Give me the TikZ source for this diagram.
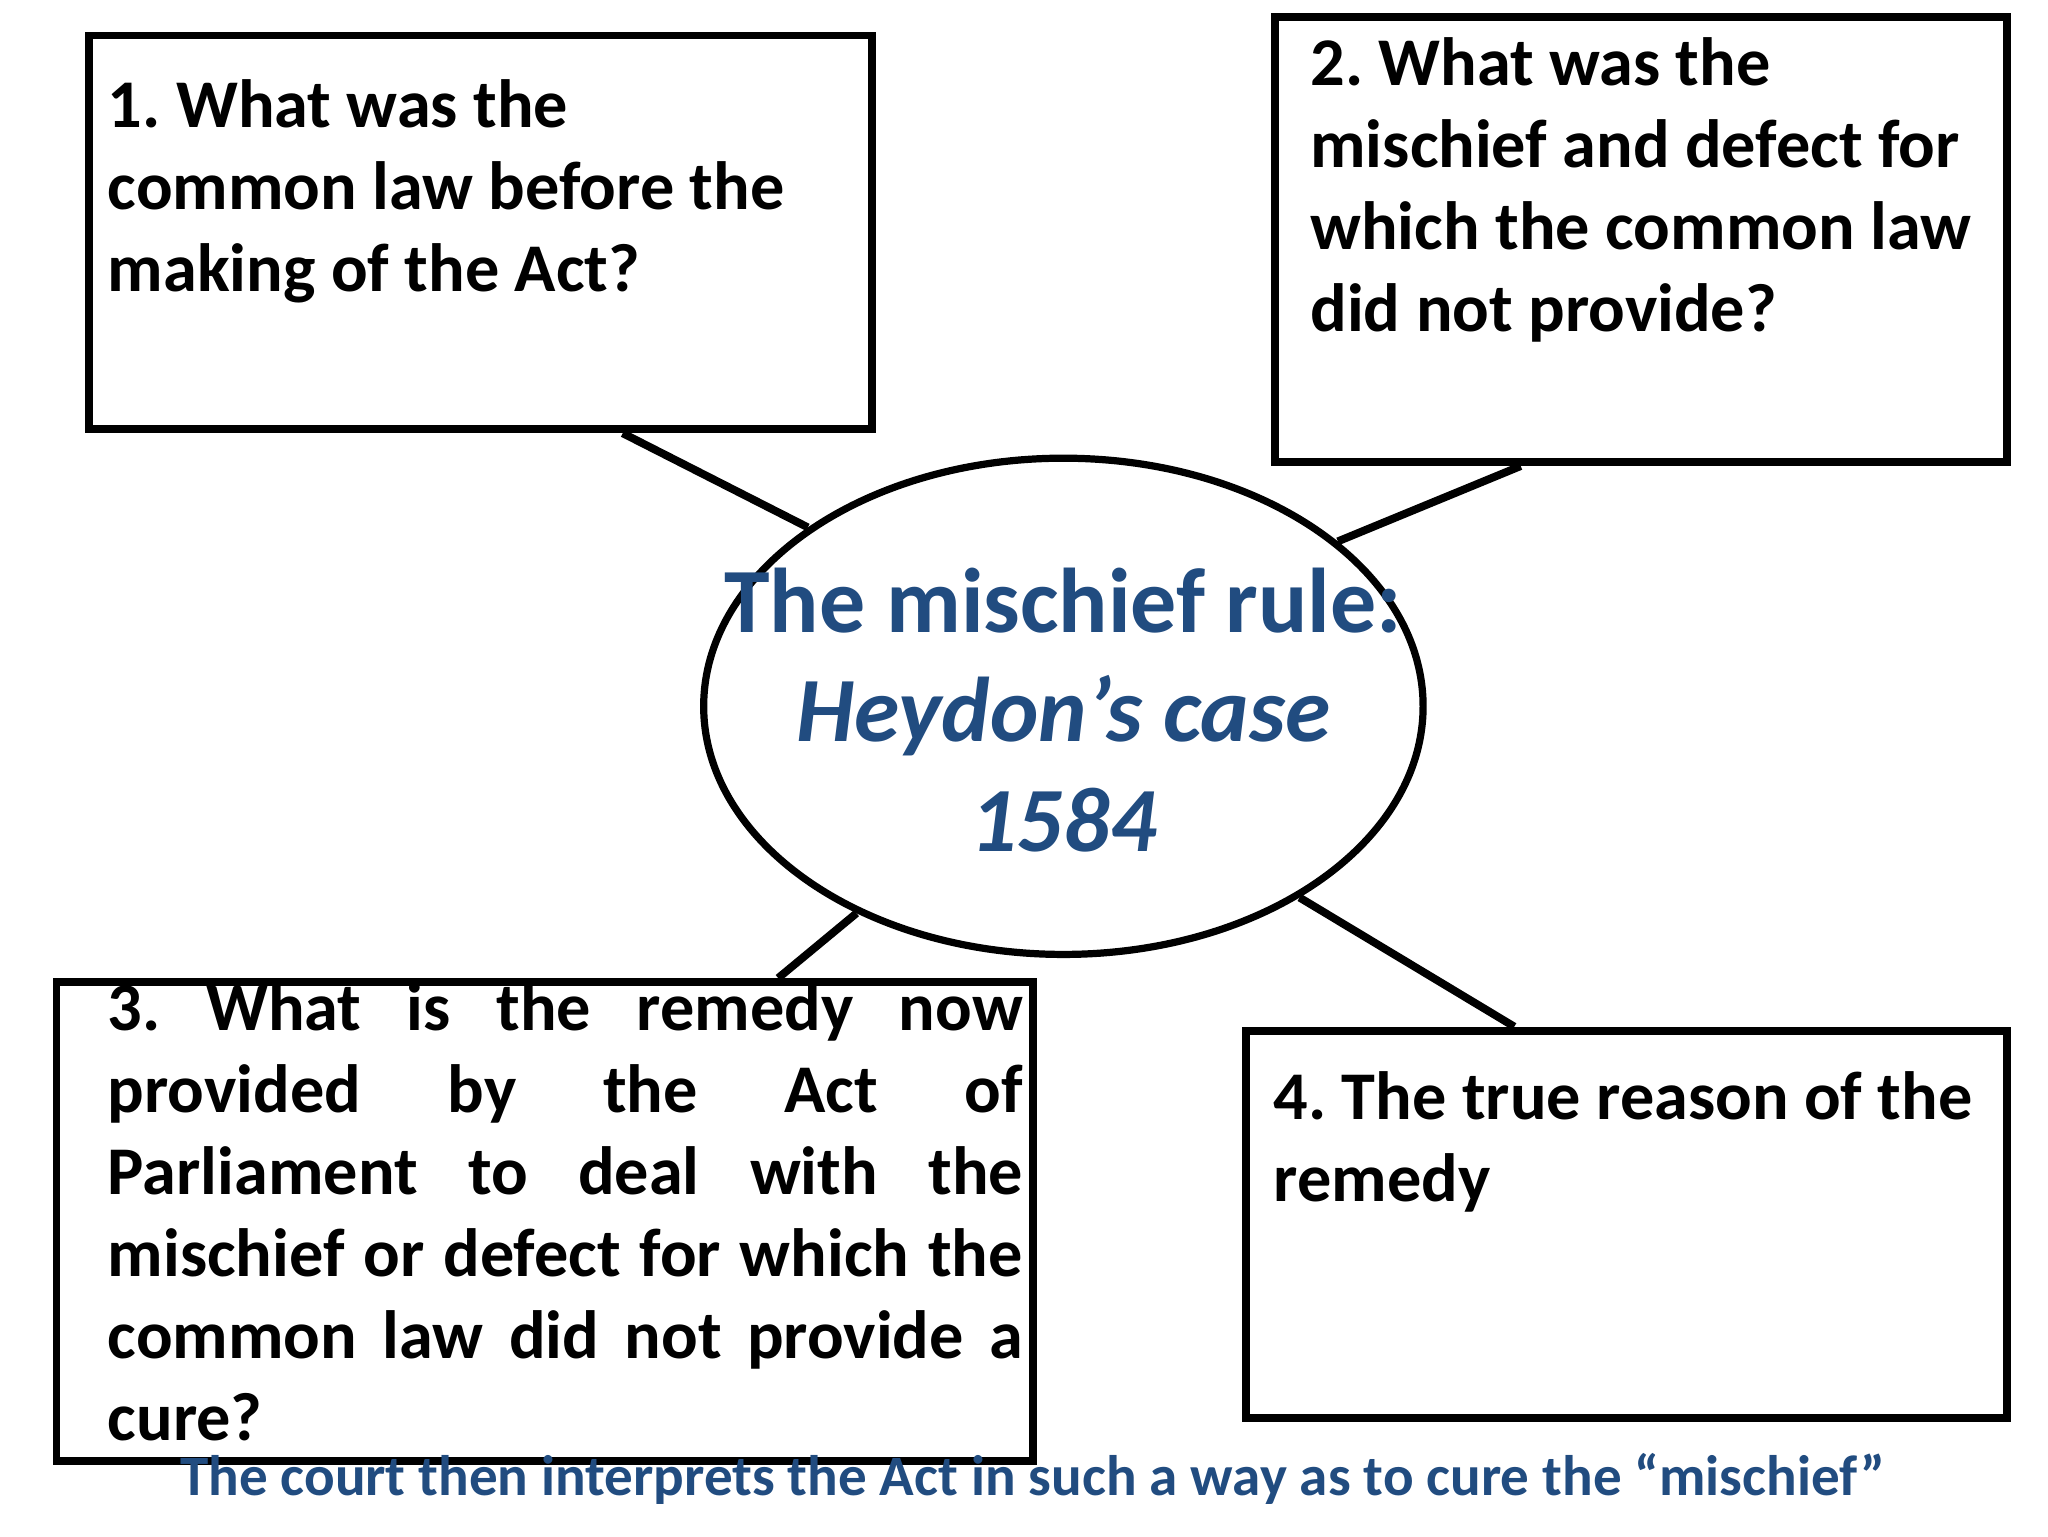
\documentclass[tikz,border=0pt]{standalone}
\usepackage{fontspec}
\setmainfont{Carlito}
\usetikzlibrary{shapes.geometric,calc}
\definecolor{titleblue}{RGB}{33,76,128}
\frenchspacing
\tikzset{
  qbox/.style={draw=black, line width=6pt, rectangle, inner sep=0pt, anchor=north west, fill=white},
  qtext/.style={anchor=base west, inner sep=0pt, font=\bfseries\fontsize{52}{62.5}\selectfont},
  link/.style={draw=black, line width=6pt},
  hub/.style={draw=black, line width=5.5pt, ellipse, fill=white, inner sep=0pt, minimum width=548pt, minimum height=378pt},
}
\begin{document}
\frenchspacing
\begin{tikzpicture}[x=1pt,y=-1pt]
\useasboundingbox (0,0) rectangle (1560,1170);
% boxes
\node[qbox, minimum width=596pt, minimum height=300pt] (b1) at (65,24) {};
\node[qbox, minimum width=558pt, minimum height=339pt] (b2) at (968,10) {};
\node[qbox, minimum width=744pt, minimum height=365pt] (b3) at (40,745) {};
\node[qbox, minimum width=580pt, minimum height=295pt] (b4) at (946,782) {};
% central ellipse
\node[hub] (hub) at (810,538) {};
% connectors
\draw[link] ($(b1.south west)!0.68!(b1.south east)$) -- (hub.145.2);
\draw[link] ($(b2.south west)!0.3375!(b2.south east)$) -- (hub.31);
\draw[link] ($(b3.north west)!0.737!(b3.north east)$) -- (hub.225.9);
\draw[link] ($(b4.north west)!0.354!(b4.north east)$) -- (hub.321.8);
% texts
\node[qtext] (t1) at (82,97) {\parbox[t]{570pt}{1. What was the\\common law before the\\making of the Act?}};
\node[qtext] (t2) at (998,65) {\parbox[t]{528pt}{2. What was the\\mischief and defect for\\which the common law\\did not provide?}};
\node[qtext] (t3) at (82,785) {\parbox[t]{700pt}{%
\makebox[697pt][s]{3. What is the remedy now}\\
\makebox[697pt][s]{provided by the Act of}\\
\makebox[697pt][s]{Parliament to deal with the}\\
\makebox[697pt][s]{mischief or defect for which the}\\
\makebox[697pt][s]{common law did not provide a}\\
cure?}};
\node[qtext] (t4) at (970,853) {\parbox[t]{560pt}{4. The true reason of the\\remedy}};
\node[anchor=base, inner sep=0pt, text=titleblue, font=\bfseries\fontsize{70}{83.5}\selectfont] (title) at (810,481.5)
  {\parbox[t]{700pt}{\centering The mischief rule:\\\itshape Heydon’s case\\1584}};
\node[anchor=base west, inner sep=0pt, text=titleblue, font=\bfseries\fontsize{43.5}{50}\selectfont] (note) at (137,1139)
  {The court then interprets the Act in such a way as to cure the “mischief”};
\end{tikzpicture}
\end{document}
